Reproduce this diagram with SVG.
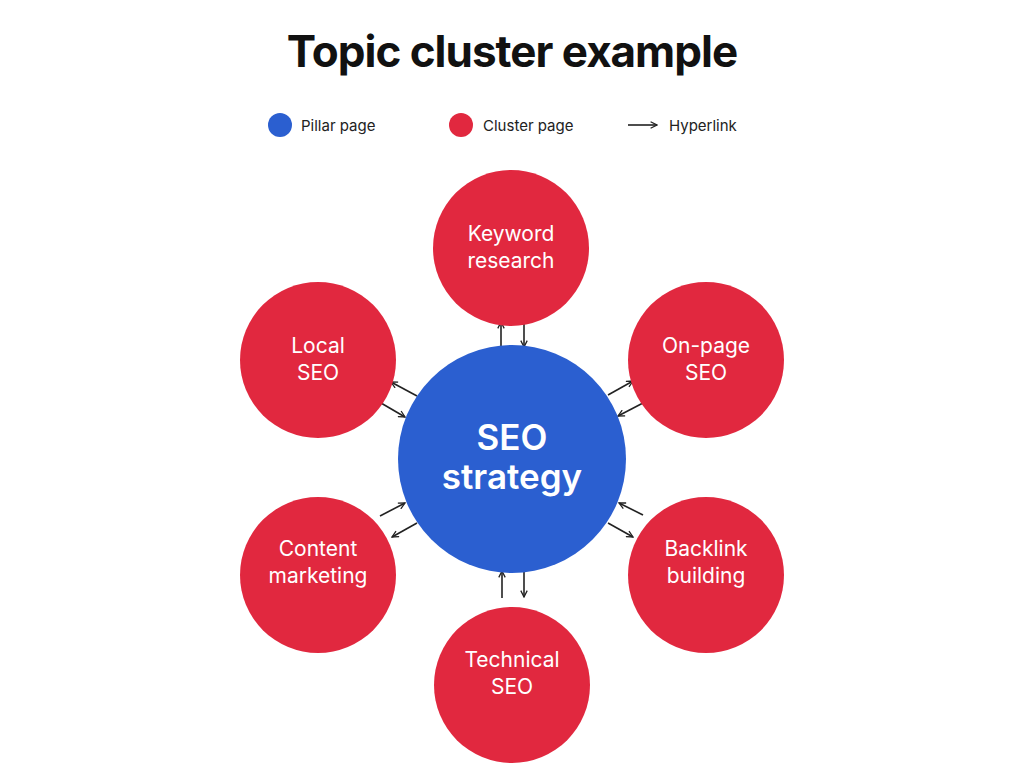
<svg xmlns="http://www.w3.org/2000/svg" width="1024" height="765" viewBox="0 0 1024 765">
<style>
.t{font-family:Inter,"Liberation Sans",sans-serif;fill:#fff;text-anchor:middle;font-size:21px}
.p{font-size:35px;font-weight:600}
.l{font-family:Inter,"Liberation Sans",sans-serif;fill:#222;font-size:15px}
.c{fill:#E1283F}
.a{stroke:#222;stroke-width:1.6;fill:none;marker-end:url(#h)}
</style>
<defs><marker id="h" viewBox="0 0 10 10" refX="9" refY="5" markerWidth="8" markerHeight="8" orient="auto" markerUnits="userSpaceOnUse"><path d="M1,1 L9,5 L1,9" fill="none" stroke="#222" stroke-width="1.6"/></marker></defs>
<rect width="1024" height="765" fill="#fff"/>
<text x="512" y="67" text-anchor="middle" font-family="Inter,'Liberation Sans',sans-serif" font-weight="700" font-size="44" fill="#111" letter-spacing="-1">Topic cluster example</text>
<g id="legend">
<circle cx="280" cy="125" r="12" fill="#2B5FD0"/><text class="l" x="301" y="131">Pillar page</text>
<circle cx="461" cy="125" r="12" class="c"/><text class="l" x="483" y="131">Cluster page</text>
<line class="a" x1="628" y1="125" x2="657" y2="125"/><text class="l" x="669" y="131">Hyperlink</text>
</g>
<g id="connectors">
<line class="a" x1="501" y1="349" x2="501" y2="322"/><line class="a" x1="524" y1="320" x2="524" y2="347"/>
<line class="a" x1="417" y1="396" x2="391" y2="382"/><line class="a" x1="381" y1="403" x2="405" y2="417"/>
<line class="a" x1="608" y1="395" x2="633" y2="381"/><line class="a" x1="643" y1="403" x2="618" y2="416"/>
<line class="a" x1="380" y1="516" x2="405" y2="503"/><line class="a" x1="417" y1="523" x2="392" y2="537"/>
<line class="a" x1="643" y1="515" x2="619" y2="503"/><line class="a" x1="608" y1="523" x2="633" y2="537"/>
<line class="a" x1="502" y1="598" x2="502" y2="571"/><line class="a" x1="524" y1="570" x2="524" y2="597"/>
</g>
<g id="pillar"><circle cx="512" cy="459" r="114" fill="#2B5FD0"/><text class="t p" x="512" y="450">SEO</text><text class="t p" x="512" y="489">strategy</text></g>
<g id="keyword"><circle class="c" cx="511" cy="248" r="78"/><text class="t" x="511" y="241">Keyword</text><text class="t" x="511" y="268">research</text></g>
<g id="local"><circle class="c" cx="318" cy="360" r="78"/><text class="t" x="318" y="353">Local</text><text class="t" x="318" y="380">SEO</text></g>
<g id="onpage"><circle class="c" cx="706" cy="360" r="78"/><text class="t" x="706" y="353">On-page</text><text class="t" x="706" y="380">SEO</text></g>
<g id="content"><circle class="c" cx="318" cy="575" r="78"/><text class="t" x="318" y="556">Content</text><text class="t" x="318" y="583">marketing</text></g>
<g id="backlink"><circle class="c" cx="706" cy="575" r="78"/><text class="t" x="706" y="556">Backlink</text><text class="t" x="706" y="583">building</text></g>
<g id="technical"><circle class="c" cx="512" cy="685" r="78"/><text class="t" x="512" y="667">Technical</text><text class="t" x="512" y="694">SEO</text></g>
</svg>
